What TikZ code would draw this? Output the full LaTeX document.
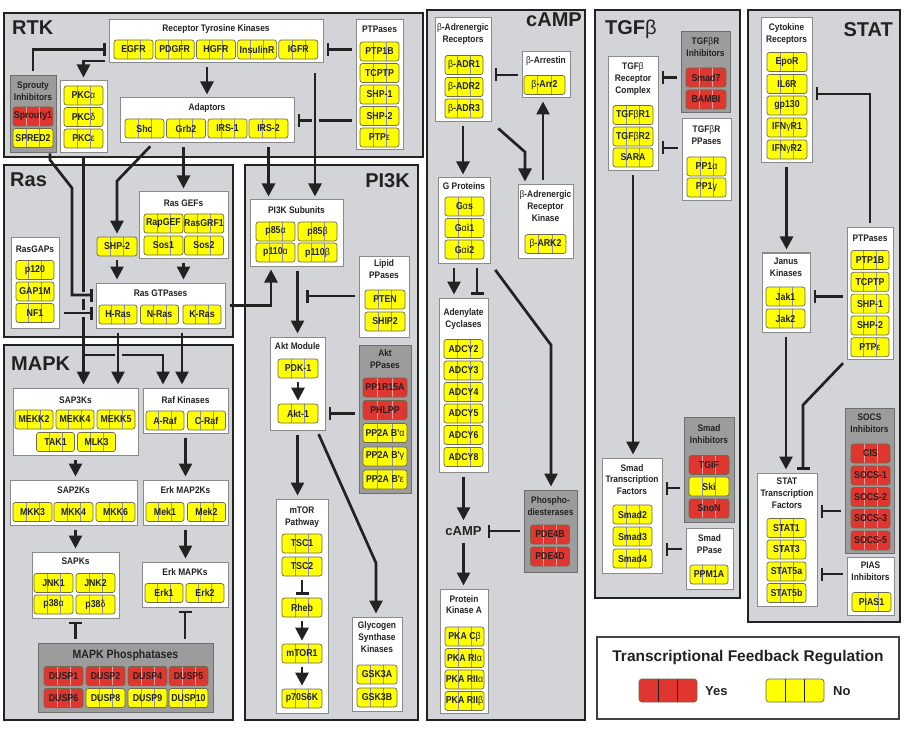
\documentclass[tikz,border=0pt]{standalone}
\usepackage{fontspec}
\setmainfont{Liberation Sans}
\newfontfamily\chipfont{Liberation Sans}[FakeStretch=0.88]
\usetikzlibrary{arrows.meta,calc}
\definecolor{pgray}{HTML}{D3D4D8}
\definecolor{gfill}{HTML}{9C9C9C}
\definecolor{gline}{HTML}{6E6E6E}
\definecolor{wline}{HTML}{8A8A8A}
\definecolor{cyel}{HTML}{FFFF00}
\definecolor{cred}{HTML}{E0362F}
\definecolor{ink}{HTML}{222222}
\definecolor{divy}{HTML}{8C8CB4}
\definecolor{divr}{HTML}{F2A0A0}
\definecolor{cbord}{HTML}{6E6A4E}
\newcommand\gk[1]{{\mdseries #1}}
\tikzset{
 panel/.style={draw=ink, line width=2.8pt, fill=pgray, inner sep=0},
 wbox/.style={draw=wline, line width=1pt, fill=white, inner sep=0},
 gbox/.style={draw=gline, line width=1pt, fill=gfill, inner sep=0},
 lbox/.style={draw=ink!85, line width=2pt, fill=white, inner sep=0},
 ptitle/.style={font=\fontsize{20}{20}\selectfont\bfseries, text=ink, inner sep=0},
 ttl/.style={font=\chipfont\fontsize{9.5}{11.8}\selectfont\bfseries, text=ink, align=center, inner sep=0},
 chipbase/.style={rounded corners=2.5pt, draw=cbord, line width=0.7pt, minimum height=19pt, inner sep=0, font=\chipfont\fontsize{10}{10}\selectfont\bfseries, text=ink},
 divs/.style={path picture={\foreach \f in {0.3333,0.6667}{\draw[#1, line width=0.6pt] ($(path picture bounding box.south west)!\f!(path picture bounding box.south east)$) -- ($(path picture bounding box.north west)!\f!(path picture bounding box.north east)$);}}},
 ychip/.style={chipbase, fill=cyel, divs=divy},
 rchip/.style={chipbase, fill=cred, divs=divr},
 act/.style={draw=ink, line width=2.7pt, -{Triangle[length=13pt,width=13pt]}, shorten <=4pt, shorten >=3pt},
 inh/.style={draw=ink, line width=2.7pt, -{Bar[width=13pt]}, shorten <=4pt, shorten >=3pt},
 hop/.style={draw=pgray, line width=7pt},
}
\newcommand\bx[6]{\node[#1, minimum width={#5-#3}, minimum height={#6-#4}] (#2) at ({(#3+#5)/2},{(#4+#6)/2}) {};}
\newcommand\gy[4]{\node[ychip, minimum width=#3] (#1) at (#2) {#4};}
\newcommand\gr[4]{\node[rchip, minimum width=#3] (#1) at (#2) {#4};}
\begin{document}
\begin{tikzpicture}[x=1pt,y=-1pt]
\useasboundingbox (0,0) rectangle (904,743);
\fill[white] (0,0) rectangle (904,743);
% ---------------- panels
\bx{panel}{prtk}{4}{13}{423}{157}
\bx{panel}{pras}{4}{165}{233}{337}
\bx{panel}{pmapk}{4}{345}{233}{720}
\bx{panel}{ppi3k}{245}{165}{418}{720}
\bx{panel}{pcamp}{427}{10}{585}{720}
\bx{panel}{ptgf}{595}{10}{740}{598}
\bx{panel}{pstat}{748}{10}{900}{622}
\node[ptitle, anchor=base west] (trtk) at (12,35) {RTK};
\node[ptitle, anchor=base west] (tras) at (10,187) {Ras};
\node[ptitle, anchor=base west] (tmapk) at (11,370) {MAPK};
\node[ptitle, anchor=base east] (tpi3k) at (410,188) {PI3K};
\node[ptitle, anchor=base east] (tcamp) at (582,27) {cAMP};
\node[ptitle, anchor=base west] (ttgf) at (605,35) {TGF\gk{β}};
\node[ptitle, anchor=base east] (tstat) at (893,37) {STAT};
% ---------------- RTK
\bx{wbox}{rtk}{109}{20}{323}{63}
\node[ttl] (trtkb) at (216,29) {Receptor Tyrosine Kinases};
\gy{egfr}{133.5,49.5}{39}{EGFR}
\gy{pdgfr}{174.7,49.5}{39}{PDGFR}
\gy{hgfr}{215.9,49.5}{39}{HGFR}
\gy{insr}{257.1,49.5}{39}{InsulinR}
\gy{igfr}{298.3,49.5}{39}{IGFR}
\bx{wbox}{ptpa}{356}{20}{403}{150}
\node[ttl] (tptpa) at (379.5,29) {PTPases};
\gy{ptp1b}{379.5,51.5}{39}{PTP1B}
\gy{tcptp}{379.5,73}{39}{TCPTP}
\gy{shp1}{379.5,94.5}{39}{SHP-1}
\gy{shp2}{379.5,116}{39}{SHP-2}
\gy{ptpe}{379.5,137.5}{39}{PTP\gk{ε}}
\bx{gbox}{spr}{10}{76}{56}{153}
\node[ttl] (tspr) at (33,91) {Sprouty\\Inhibitors};
\gr{spry1}{33,116.5}{40}{Sprouty1}
\gy{spred2}{33,138}{40}{SPRED2}
\bx{wbox}{pkc}{60}{81}{107}{153}
\gy{pkca}{83.5,95.5}{39}{PKC\gk{α}}
\gy{pkcd}{83.5,117}{39}{PKC\gk{δ}}
\gy{pkce}{83.5,138.5}{39}{PKC\gk{ε}}
\bx{wbox}{adapt}{120}{98}{294}{143}
\node[ttl] (tadapt) at (207,108) {Adaptors};
\gy{shc}{144.5,128.5}{39}{Shc}
\gy{grb2}{186,128.5}{39}{Grb2}
\gy{irs1}{227.5,128.5}{39}{IRS-1}
\gy{irs2}{268.5,128.5}{39}{IRS-2}
% ---------------- Ras
\bx{wbox}{gefs}{139}{192}{228}{258}
\node[ttl] (tgefs) at (183.5,203) {Ras GEFs};
\gy{rapgef}{163.5,223.5}{39}{RapGEF}
\gy{rasgrf}{204,223.5}{39}{RasGRF1}
\gy{sos1}{163.5,245.5}{39}{Sos1}
\gy{sos2}{204,245.5}{39}{Sos2}
\gy{shp2r}{117,246.5}{40}{SHP-2}
\bx{wbox}{gaps}{11}{238}{59}{328}
\node[ttl] (tgaps) at (35,249) {RasGAPs};
\gy{p120}{35,270}{38}{p120}
\gy{gap1m}{35,291.5}{38}{GAP1M}
\gy{nf1}{35,313}{38}{NF1}
\bx{wbox}{gtp}{96}{283}{225}{328}
\node[ttl] (tgtp) at (160.5,293) {Ras GTPases};
\gy{hras}{118,314.5}{38}{H-Ras}
\gy{nras}{159.5,314.5}{38}{N-Ras}
\gy{kras}{202,314.5}{38}{K-Ras}
% ---------------- MAPK
\bx{wbox}{sap3}{13}{388}{138}{455}
\node[ttl] (tsap3) at (75.5,400) {SAP3Ks};
\gy{mekk2}{34,419.5}{38}{MEKK2}
\gy{mekk4}{75,419.5}{38}{MEKK4}
\gy{mekk5}{116,419.5}{38}{MEKK5}
\gy{tak1}{55.5,442}{38}{TAK1}
\gy{mlk3}{96.5,442}{38}{MLK3}
\bx{wbox}{raf}{143}{388}{228}{433}
\node[ttl] (traf) at (185.5,400) {Raf Kinases};
\gy{araf}{165,420.5}{38}{A-Raf}
\gy{craf}{206.5,420.5}{38}{C-Raf}
\bx{wbox}{sap2}{10}{480}{137}{525}
\node[ttl] (tsap2) at (73.5,490) {SAP2Ks};
\gy{mkk3}{32.5,512}{39}{MKK3}
\gy{mkk4}{73.5,512}{39}{MKK4}
\gy{mkk6}{115.5,512}{39}{MKK6}
\bx{wbox}{mek}{143}{480}{228}{525}
\node[ttl] (tmek) at (185.5,490) {Erk MAP2Ks};
\gy{mek1}{165,512}{38}{Mek1}
\gy{mek2}{206.5,512}{38}{Mek2}
\bx{wbox}{sapk}{32}{552}{119}{618}
\node[ttl] (tsapk) at (75.5,561) {SAPKs};
\gy{jnk1}{53.5,583}{39}{JNK1}
\gy{jnk2}{95.5,583}{39}{JNK2}
\gy{p38a}{53.5,604.5}{39}{p38\gk{α}}
\gy{p38d}{95.5,604.5}{39}{p38\gk{δ}}
\bx{wbox}{erk}{142}{562}{228}{607}
\node[ttl] (terk) at (185,572) {Erk MAPKs};
\gy{erk1}{164,593}{38}{Erk1}
\gy{erk2}{205,593}{38}{Erk2}
\bx{gbox}{dusp}{38}{643}{213}{712}
\node[ttl, font=\chipfont\fontsize{12}{12}\selectfont\bfseries] (tdusp) at (125.5,655) {MAPK Phosphatases};
\gr{dusp1}{63.5,676}{39}{DUSP1}
\gr{dusp2}{105.5,676}{39}{DUSP2}
\gr{dusp4}{147.5,676}{39}{DUSP4}
\gr{dusp5}{188.5,676}{39}{DUSP5}
\gr{dusp6}{63.5,698}{39}{DUSP6}
\gy{dusp8}{105.5,698}{39}{DUSP8}
\gy{dusp9}{147.5,698}{39}{DUSP9}
\gy{dusp10}{188.5,698}{39}{DUSP10}
% ---------------- PI3K
\bx{wbox}{pi3k}{250}{200}{343}{266}
\node[ttl] (tpi3kb) at (296.5,210) {PI3K Subunits};
\gy{p85a}{275.5,231.5}{39}{p85\gk{α}}
\gy{p85b}{317.5,231.5}{39}{p85\gk{β}}
\gy{p110a}{275.5,252.5}{39}{p110\gk{α}}
\gy{p110b}{317.5,252.5}{39}{p110\gk{β}}
\bx{wbox}{lipid}{359}{256}{409}{337}
\node[ttl] (tlipid) at (384,269.5) {Lipid\\PPases};
\gy{pten}{385,299.5}{40}{PTEN}
\gy{ship2}{385,321.5}{40}{SHIP2}
\bx{wbox}{akt}{270}{337}{325}{430}
\node[ttl] (takt) at (297.5,346) {Akt Module};
\gy{pdk1}{298,368.5}{40}{PDK-1}
\gy{akt1}{298,413.5}{40}{Akt-1}
\bx{gbox}{aktpp}{359}{345}{411}{493}
\node[ttl] (taktpp) at (385,359) {Akt\\PPases};
\gr{pp1r}{385,387.5}{44}{PP1R15A}
\gr{phlpp}{385,410}{44}{PHLPP}
\gy{pp2a}{385,433}{44}{PP2A B'\gk{α}}
\gy{pp2g}{385,456.5}{44}{PP2A B'\gk{γ}}
\gy{pp2e}{385,479.5}{44}{PP2A B'\gk{ε}}
\bx{wbox}{mtor}{276}{499}{328}{713}
\node[ttl] (tmtor) at (302,517) {mTOR\\Pathway};
\gy{tsc1}{302,543.5}{40}{TSC1}
\gy{tsc2}{302,566.5}{40}{TSC2}
\gy{rheb}{302,607.5}{40}{Rheb}
\gy{mtor1}{302,653.5}{40}{mTOR1}
\gy{p70}{302,698.5}{40}{p70S6K}
\bx{wbox}{gsk}{352}{617}{402}{711}
\node[ttl] (tgsk) at (377,637) {Glycogen\\Synthase\\Kinases};
\gy{gsk3a}{377,674.5}{40}{GSK3A}
\gy{gsk3b}{377,697.5}{40}{GSK3B}
% ---------------- cAMP
\bx{wbox}{bar}{435}{18}{491}{122}
\node[ttl] (tbar) at (463,34) {\gk{β}-Adrenergic\\Receptors};
\gy{adr1}{464,65}{38}{\gk{β}-ADR1}
\gy{adr2}{464,87}{38}{\gk{β}-ADR2}
\gy{adr3}{464,108.5}{38}{\gk{β}-ADR3}
\bx{wbox}{arr}{522}{52}{570}{98}
\node[ttl] (tarr) at (546,61) {\gk{β}-Arrestin};
\gy{arr2}{544.5,85}{41}{\gk{β}-Arr2}
\bx{wbox}{gp}{438}{178}{490}{263}
\node[ttl] (tgp) at (464,186) {G Proteins};
\gy{gas}{464.5,206.5}{39}{G\gk{α}s}
\gy{gai1}{464.5,228}{39}{G\gk{α}i1}
\gy{gai2}{464.5,249.5}{39}{G\gk{α}i2}
\bx{wbox}{bark}{518}{185}{573}{258}
\node[ttl] (tbark) at (545.5,206) {\gk{β}-Adrenergic\\Receptor\\Kinase};
\gy{bark2}{545.5,244}{41}{\gk{β}-ARK2}
\bx{wbox}{ac}{439}{298}{488}{472}
\node[ttl] (tac) at (463.5,319) {Adenylate\\Cyclases};
\gy{adcy2}{463.5,349}{39}{ADCY2}
\gy{adcy3}{463.5,370.5}{39}{ADCY3}
\gy{adcy4}{463.5,392}{39}{ADCY4}
\gy{adcy5}{463.5,413.5}{39}{ADCY5}
\gy{adcy6}{463.5,435}{39}{ADCY6}
\gy{adcy8}{463.5,457}{39}{ADCY8}
\node[font=\fontsize{13}{13}\selectfont\bfseries, text=ink, inner sep=3pt] (camp) at (463.5,531) {cAMP};
\bx{gbox}{pde}{524}{490}{577}{572}
\node[ttl] (tpde) at (550.5,506.5) {Phospho-\\diesterases};
\gr{pde4b}{550,534.5}{39}{PDE4B}
\gr{pde4d}{550,556.5}{39}{PDE4D}
\bx{wbox}{pka}{440}{589}{488}{713}
\node[ttl] (tpka) at (464,604.5) {Protein\\Kinase A};
\gy{pkacb}{464.5,636.5}{39}{PKA C\gk{β}}
\gy{pkar1a}{464.5,658}{39}{PKA RI\gk{α}}
\gy{pkar2a}{464.5,679.5}{39}{PKA RII\gk{α}}
\gy{pkar2b}{464.5,701}{39}{PKA RII\gk{β}}
% ---------------- TGFb
\bx{wbox}{tgfr}{608}{57}{658}{171}
\node[ttl] (ttgfr) at (633,79) {TGF\gk{β}\\Receptor\\Complex};
\gy{tgfr1}{633,115}{40}{TGF\gk{β}R1}
\gy{tgfr2}{633,136.5}{40}{TGF\gk{β}R2}
\gy{sara}{633,157.5}{40}{SARA}
\bx{gbox}{tgfi}{681}{32}{730}{113}
\node[ttl] (ttgfi) at (705.5,47.5) {TGF\gk{β}R\\Inhibitors};
\gr{smad7}{706,77.5}{40}{Smad7}
\gr{bambi}{706,99.5}{40}{BAMBI}
\bx{wbox}{tgfp}{682}{119}{731}{201}
\node[ttl] (ttgfp) at (706.5,135.5) {TGF\gk{β}R\\PPases};
\gy{pp1a}{706.5,166.5}{39}{PP1\gk{α}}
\gy{pp1g}{706.5,187.5}{39}{PP1\gk{γ}}
\bx{wbox}{smadtf}{602}{458}{662}{573}
\node[ttl] (tsmadtf) at (632,479.5) {Smad\\Transcription\\Factors};
\gy{smad2}{632.5,514.5}{39}{Smad2}
\gy{smad3}{632.5,536.5}{39}{Smad3}
\gy{smad4}{632.5,558.5}{39}{Smad4}
\bx{gbox}{smadi}{684}{417}{734}{522}
\node[ttl] (tsmadi) at (709,434) {Smad\\Inhibitors};
\gr{tgif}{709,465}{40}{TGIF}
\gy{ski}{709,486.5}{40}{Ski}
\gr{snon}{709,508.5}{40}{SnoN}
\bx{wbox}{smadp}{686}{528}{733}{589}
\node[ttl] (tsmadp) at (709.5,544) {Smad\\PPase};
\gy{ppm1a}{709,574.5}{38}{PPM1A}
% ---------------- STAT
\bx{wbox}{cyto}{761}{18}{812}{163}
\node[ttl] (tcyto) at (786.5,34) {Cytokine\\Receptors};
\gy{epor}{787,62}{40}{EpoR}
\gy{il6r}{787,84}{40}{IL6R}
\gy{gp130}{787,105.5}{40}{gp130}
\gy{ifngr1}{787,127.5}{40}{IFN\gk{γ}R1}
\gy{ifngr2}{787,149.5}{40}{IFN\gk{γ}R2}
\bx{wbox}{jak}{762}{253}{810}{332}
\node[ttl] (tjak) at (786,267.5) {Janus\\Kinases};
\gy{jak1}{785.5,296.5}{39}{Jak1}
\gy{jak2}{785.5,318.5}{39}{Jak2}
\bx{wbox}{stptp}{847}{228}{893}{359}
\node[ttl] (tstptp) at (870,238) {PTPases};
\gy{sptp1b}{870,260}{38}{PTP1B}
\gy{stcptp}{870,281.8}{38}{TCPTP}
\gy{sshp1}{870,303.6}{38}{SHP-1}
\gy{sshp2}{870,325.4}{38}{SHP-2}
\gy{sptpe}{870,347.2}{38}{PTP\gk{ε}}
\bx{wbox}{stattf}{757}{473}{817}{606}
\node[ttl] (tstattf) at (787,493.5) {STAT\\Transcription\\Factors};
\gy{stat1}{786.5,528}{39}{STAT1}
\gy{stat3}{786.5,549.5}{39}{STAT3}
\gy{stat5a}{786.5,571.5}{39}{STAT5a}
\gy{stat5b}{786.5,593}{39}{STAT5b}
\bx{gbox}{socs}{845}{408}{894}{553}
\node[ttl] (tsocs) at (869.5,423) {SOCS\\Inhibitors};
\gr{cis}{870.5,453.5}{39}{CIS}
\gr{socs1}{870.5,475.5}{39}{SOCS-1}
\gr{socs2}{870.5,497}{39}{SOCS-2}
\gr{socs3}{870.5,518.5}{39}{SOCS-3}
\gr{socs5}{870.5,540.5}{39}{SOCS-5}
\bx{wbox}{pias}{847}{557}{894}{615}
\node[ttl] (tpias) at (870.5,571) {PIAS\\Inhibitors};
\gy{pias1}{871.5,602}{39}{PIAS1}
% ---------------- legend
\bx{lbox}{legend}{597}{637}{899}{719}
\node[font=\fontsize{15.5}{16}\selectfont\bfseries, text=ink, inner sep=0] (ltitle) at (748,658) {Transcriptional Feedback Regulation};
\node[rounded corners=3pt, draw=cbord, line width=0.7pt, fill=cred, minimum width=58pt, minimum height=23pt, divs=ink] (lyes) at (668,690.5) {};
\node[font=\fontsize{13}{13}\selectfont\bfseries, text=ink, anchor=west, inner sep=0] (lyest) at (705,691) {Yes};
\node[rounded corners=3pt, draw=cbord, line width=0.7pt, fill=cyel, minimum width=58pt, minimum height=23pt, divs=ink] (lno) at (795,690.5) {};
\node[font=\fontsize{13}{13}\selectfont\bfseries, text=ink, anchor=west, inner sep=0] (lnot) at (833,691) {No};
% ================= connectors
% RTK
\draw[act] (rtk.south -| adapt.north) -- (adapt.north);
\draw[inh] (ptpa.west |- igfr) -- (rtk.east |- igfr);
\draw[inh] (spr.north) |- (rtk.west |- egfr);
\coordinate (kp) at (87,61);
\draw[act] (rtk.west |- kp) -| (pkc.north);
\draw[inh] (ptpa.west |- adapt.east) -- (adapt.east);
\coordinate (igx) at (315,0);
\draw[hop] ($(igx |- adapt.east)+(0,-5)$) -- ($(igx |- adapt.east)+(0,5)$);
\draw[act, shorten <=10pt] (rtk.south -| igx) -- (pi3k.north -| igx);
\draw[act] (adapt.south -| irs2) -- (pi3k.north -| irs2);
\draw[act] (adapt.south -| gefs.north) -- (gefs.north);
\coordinate (sha) at (153,0);
\coordinate (shb) at (117,181);
\draw[act] (adapt.south -| sha) -- (shb) -- (shp2r.north);
% Ras
\coordinate (sq1) at (50,160);
\coordinate (sq2) at (72,188);
\coordinate (sq3) at (72,295);
\coordinate (pr) at (163,355);
\draw[act] (pkc.south) -- (sap3.north -| pkc.south);
\draw[hop] ($(pkc.south |- sq3)+(-5,0)$) -- ($(pkc.south |- sq3)+(5,0)$);
\draw[inh, shorten <=0pt] (spr.south -| sq1) -- (sq1) -- (sq2) -- (sq3) -- (gtp.west |- sq3);
\draw[hop] ($(pkc.south |- nf1)+(-5,0)$) -- ($(pkc.south |- nf1)+(5,0)$);
\draw[inh] (gaps.east |- nf1) -- (gtp.west |- nf1);
\draw[act, shorten <=0pt] (pkc.south |- pr) -- (pr) -- (raf.north -| pr);
\draw[hop] ($(hras |- pr)+(0,-5)$) -- ($(hras |- pr)+(0,5)$);
\draw[act] (gtp.south -| hras) -- (sap3.north -| hras);
\coordinate (rr) at (182,0);
\draw[act] (gtp.south -| rr) -- (raf.north -| rr);
\draw[act] (shp2r.south) -- (gtp.north -| shp2r.south);
\draw[act] (gefs.south) -- (gtp.north -| gefs.south);
\coordinate (p3x) at (271,0);
\draw[act] (gtp.east) -| (pi3k.south -| p3x);
% MAPK
\draw[act] (sap3.south) -- (sap2.north -| sap3.south);
\draw[act] (raf.south) -- (mek.north -| raf.south);
\draw[act] (sap2.south -| sapk.north) -- (sapk.north);
\draw[act] (mek.south) -- (erk.north -| mek.south);
\draw[inh] (dusp.north -| sapk.south) -- (sapk.south);
\draw[inh] (dusp.north -| erk.south) -- (erk.south);
% PI3K
\draw[act] (pi3k.south -| akt.north) -- (akt.north);
\coordinate (lpe) at (306,296);
\draw[inh, shorten >=0pt] (lipid.west |- lpe) -- (lpe);
\draw[act] (pdk1.south) -- (akt1.north);
\draw[inh] (aktpp.west |- akt1) -- (akt.east |- akt1);
\draw[act] (akt.south) -- (mtor.north -| akt.south);
\coordinate (ag1) at (317,0);
\coordinate (ag2) at (376,563);
\draw[act] (akt.south -| ag1) -- (ag2) -- (gsk.north -| ag2);
\draw[inh] (tsc2.south) -- (rheb.north);
\draw[act] (rheb.south) -- (mtor1.north);
\draw[act] (mtor1.south) -- (p70.north);
% cAMP
\draw[inh] (arr.west) -- (bar.east |- arr.west);
\draw[act] (bar.south) -- (gp.north -| bar.south);
\coordinate (bk1) at (525,152);
\draw[act, shorten <=9pt] (bar.south east) -- (bk1) -- (bark.north -| bk1);
\coordinate (bx) at (543,0);
\draw[act] (bark.north -| bx) -- (arr.south -| bx);
\coordinate (acx1) at (454,0);
\coordinate (acx2) at (477,0);
\draw[act] (gp.south -| acx1) -- (ac.north -| acx1);
\draw[inh] (gp.south -| acx2) -- (ac.north -| acx2);
\coordinate (pd1) at (551,345);
\draw[act, shorten <=8pt] (gp.south east) -- (pd1) -- (pde.north -| pd1);
\draw[act] (ac.south) -- (camp.north);
\draw[inh] (pde.west |- camp) -- (camp.east);
\draw[act] (camp.south) -- (pka.north -| camp.south);
% TGFb
\draw[inh] (tgfi.west |- smad7) -- (tgfr.east |- smad7);
\coordinate (tpy) at (0,148);
\draw[inh] (tgfp.west |- tpy) -- (tgfr.east |- tpy);
\draw[act] (tgfr.south) -- (smadtf.north -| tgfr.south);
\coordinate (siy) at (0,488);
\coordinate (spy) at (0,549);
\draw[inh] (smadi.west |- siy) -- (smadtf.east |- siy);
\draw[inh] (smadp.west |- spy) -- (smadtf.east |- spy);
% STAT
\coordinate (scy) at (0,94);
\draw[inh] (stptp.north) |- (cyto.east |- scy);
\draw[act] (cyto.south) -- (jak.north -| cyto.south);
\draw[inh] (stptp.west |- jak1) -- (jak.east |- jak1);
\draw[act] (jak.south) -- (stattf.north -| jak.south);
\coordinate (st1) at (803,405);
\draw[inh, shorten <=5pt] (stptp.south west) -- (st1) -- (stattf.north -| st1);
\coordinate (soy) at (0,511);
\coordinate (piy) at (0,574);
\draw[inh] (socs.west |- soy) -- (stattf.east |- soy);
\draw[inh] (pias.west |- piy) -- (stattf.east |- piy);
\end{tikzpicture}
\end{document}
